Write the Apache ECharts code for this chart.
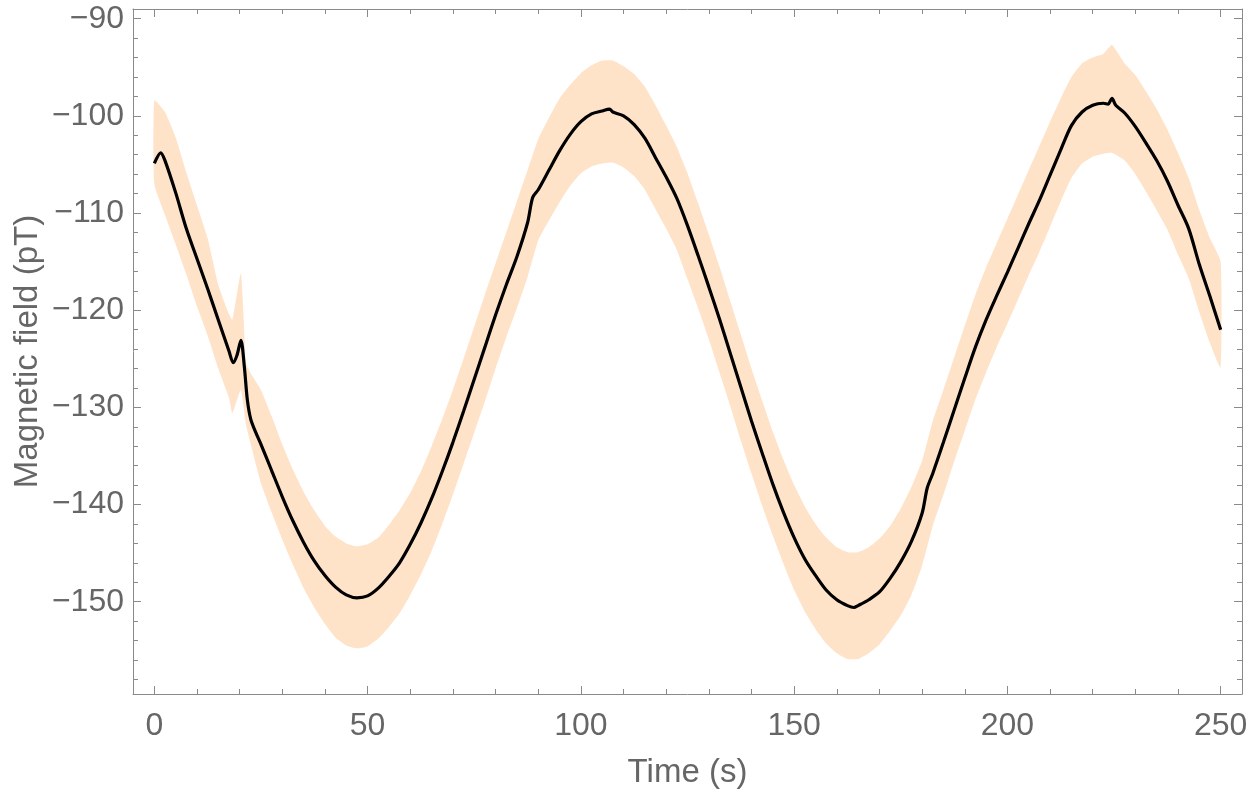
<!DOCTYPE html>
<html>
<head>
<meta charset="utf-8">
<title>Magnetic field</title>
<script src="https://cdn.jsdelivr.net/npm/echarts@6/dist/echarts.min.js"></script>
<style>
  html, body { margin: 0; padding: 0; background: #fff; }
  #chart { width: 1250px; height: 790px; }
</style>
</head>
<body>
<div id="chart"></div>
<script>
// smoothed field (black curve)
var lineTime = [0, 1.5, 2.5, 5, 7.5, 10, 12.5, 15, 17.5, 18.5, 19.4, 20.3, 21.1, 21.8, 22.6, 23.8,
  25, 27.5, 30, 32.5, 35, 37.5, 40, 42.5, 45, 47.5, 50, 52.5, 55, 57.5, 60, 62.5, 65, 67.5, 70,
  72.5, 75, 77.5, 80, 82.5, 85, 87.5, 88.7, 90, 92.5, 95, 97.5, 100, 102.5, 105, 106.7, 107.5,
  110, 112.5, 115, 117.5, 120, 122.5, 125, 127.5, 130, 132.5, 135, 137.5, 140, 142.5, 145, 147.5,
  150, 152.5, 155, 157.5, 160, 162.5, 164, 165, 167.5, 170, 172.5, 175, 177.5, 180, 181.2, 182.5,
  185, 187.5, 190, 192.5, 195, 197.5, 200, 202.5, 205, 207.5, 210, 212.5, 215, 217.5, 220, 222.5,
  223.6, 224.5, 225.4, 227.5, 230, 232.5, 235, 237.5, 240, 242.5, 245, 247.5, 250];
var lineField = [-104.9, -103.8, -104.6, -107.9, -111.6, -114.7, -117.8, -121.0, -124.2, -125.4, -124.6, -123.1, -125.8, -129.2, -131.2, -132.6,
  -133.8, -136.5, -139.2, -141.7, -143.9, -145.8, -147.3, -148.5, -149.3, -149.6, -149.4, -148.6, -147.4, -146.0, -144.1, -141.9, -139.4, -136.6, -133.6,
  -130.4, -127.1, -123.8, -120.5, -117.4, -114.5, -111.0, -108.4, -107.6, -105.6, -103.6, -101.9, -100.6, -99.8, -99.5, -99.3, -99.6,
  -100.0, -100.9, -102.3, -104.3, -106.3, -108.5, -111.3, -114.4, -117.6, -120.9, -124.4, -127.9, -131.4, -134.7, -137.9, -140.8,
  -143.4, -145.6, -147.3, -148.8, -149.8, -150.4, -150.6, -150.4, -149.8, -149.0, -147.6, -145.9, -143.8, -140.9, -138.3, -136.8,
  -133.6, -130.3, -127.0, -123.8, -121.0, -118.5, -116.1, -113.6, -111.1, -108.7, -106.1, -103.5, -101.0, -99.6, -98.9, -98.7,
  -98.8, -98.2, -98.9, -99.7, -101.1, -102.8, -104.6, -106.7, -109.2, -111.6, -115.3, -118.6, -122.0];

// envelope of the raw signal (peach band)
var bandTime = [0, 2.5, 5, 7.5, 10, 12.5, 15, 17.5, 18.3, 20.3, 21.5, 22.5, 25, 27.5, 30, 32.5, 35, 37.5,
  40, 42.5, 45, 47.5, 50, 52.5, 55, 57.5, 60, 62.5, 65, 67.5, 70, 72.5, 75, 77.5, 80, 82.5, 85, 87.5,
  90, 92.5, 95, 97.5, 100, 102.5, 105, 107.5, 110, 112.5, 115, 117.5, 120, 122.5, 125, 127.5, 130,
  132.5, 135, 137.5, 140, 142.5, 145, 147.5, 150, 152.5, 155, 157.5, 160, 162.5, 165, 167.5, 170,
  172.5, 175, 177.5, 180, 182.5, 185, 187.5, 190, 192.5, 195, 197.5, 200, 202.5, 205, 207.5, 210,
  212.5, 215, 217.5, 220, 222.5, 224.5, 227.5, 230, 232.5, 235, 237.5, 240, 242.5, 245, 247.5, 250];
var bandUpper = [-98.4, -99.6, -102.2, -105.8, -109.2, -112.6, -117.4, -120.4, -121.0, -116.2, -125.4, -126.4, -128.2, -130.9, -133.8, -136.4, -138.7, -140.6,
  -142.2, -143.3, -144.0, -144.3, -144.1, -143.4, -142.1, -140.6, -138.8, -136.6, -134.0, -131.2, -128.2, -125.0, -121.7, -118.4, -115.2, -112.0, -108.8, -105.6,
  -102.4, -100.2, -98.2, -96.8, -95.6, -94.8, -94.3, -94.3, -94.9, -95.7, -97.0, -98.9, -101.0, -103.2, -105.9, -109.0, -112.2,
  -115.5, -119.0, -122.5, -126.0, -129.3, -132.5, -135.4, -138.0, -140.2, -142.0, -143.4, -144.4, -144.9, -144.9, -144.4, -143.5,
  -142.2, -140.4, -138.2, -135.5, -131.4, -128.2, -124.9, -121.6, -118.4, -115.6, -113.1, -110.6, -108.1, -105.6, -103.1, -100.6,
  -98.2, -96.0, -94.6, -94.0, -93.6, -92.7, -94.6, -95.8, -97.5, -99.3, -101.4, -103.8, -106.4, -109.7, -112.6, -115.0];
var bandLower = [-107.0, -110.2, -113.2, -116.3, -119.6, -122.6, -126.0, -129.0, -130.6, -128.2, -131.8, -133.6, -137.8, -140.8, -143.6, -146.2, -148.6, -150.6,
  -152.3, -153.7, -154.5, -154.8, -154.6, -153.8, -152.6, -151.2, -149.3, -147.2, -144.8, -142.0, -139.0, -135.8, -132.6, -129.4, -126.0, -122.8, -119.8, -116.6,
  -112.8, -110.8, -108.9, -107.2, -105.9, -105.2, -104.9, -104.8, -105.3, -106.2, -107.6, -109.6, -111.6, -113.8, -116.8, -119.8, -123.0,
  -126.4, -129.8, -133.4, -136.8, -140.1, -143.2, -146.1, -148.8, -151.0, -152.8, -154.3, -155.3, -155.9, -155.9, -155.3, -154.4,
  -153.0, -151.4, -149.3, -146.3, -142.2, -139.0, -135.6, -132.4, -129.2, -126.4, -123.8, -121.4, -118.9, -116.4, -114.0, -111.4,
  -108.8, -106.4, -104.9, -104.2, -103.9, -103.8, -104.6, -106.0, -107.8, -109.7, -111.7, -114.3, -116.7, -120.2, -123.4, -125.9];

// tick positions
var xTicks = [0, 50, 100, 150, 200, 250];
var xMinorTicks = [10, 20, 30, 40, 60, 70, 80, 90, 110, 120, 130, 140, 160, 170, 180, 190, 210, 220, 230, 240];
var yTicks = [-150, -140, -130, -120, -110, -100, -90];
var yMinorTicks = [-158, -156, -154, -152, -148, -146, -144, -142, -138, -136, -134, -132, -128, -126, -124, -122,
  -118, -116, -114, -112, -108, -106, -104, -102, -98, -96, -94, -92];

var font = '"Liberation Sans", Arial, sans-serif';
var frame = '#8a8a8a';
var textColor = '#666666';

function minus(v) {
  return v < 0 ? '\u2212' + Math.abs(v) : String(v);
}

function xAxisDef(pos, ticks, len, main) {
  return {
    type: 'value', position: pos, min: -5, max: 255, z: 10,
    name: main ? 'Time (s)' : '', nameLocation: 'middle', nameGap: 62, nameMoveOverlap: false,
    nameTextStyle: { fontFamily: font, fontSize: 33, color: textColor },
    axisLine: { show: main !== null, onZero: false, lineStyle: { color: frame, width: 1 } },
    axisTick: { show: true, inside: true, length: len, customValues: ticks, lineStyle: { color: frame } },
    axisLabel: { show: !!main, customValues: ticks, margin: 16, fontFamily: font, fontSize: 32, color: textColor, formatter: minus },
    splitLine: { show: false }
  };
}
function yAxisDef(pos, ticks, len, main) {
  return {
    type: 'value', position: pos, min: -159.5, max: -89, z: 10,
    name: main ? 'Magnetic field (pT)' : '', nameLocation: 'middle', nameGap: 89, nameMoveOverlap: false,
    nameTextStyle: { fontFamily: font, fontSize: 33, color: textColor },
    axisLine: { show: main !== null, onZero: false, lineStyle: { color: frame, width: 1 } },
    axisTick: { show: true, inside: true, length: len, customValues: ticks, lineStyle: { color: frame } },
    axisLabel: { show: !!main, customValues: ticks, margin: 9, fontFamily: font, fontSize: 32, color: textColor, formatter: minus },
    splitLine: { show: false }
  };
}

// band drawn as one polygon: upper edge forward, lower edge back
function renderBand(params, api) {
  var pts = [];
  for (var i = 0; i < bandTime.length; i++) {
    pts.push(api.coord([bandTime[i], bandUpper[i]]));
  }
  for (var j = bandTime.length - 1; j >= 0; j--) {
    pts.push(api.coord([bandTime[j], bandLower[j]]));
  }
  return {
    type: 'polygon',
    shape: { points: pts, smooth: 0.15 },
    style: { fill: '#fee3c9', stroke: null }
  };
}

var chart = echarts.init(document.getElementById('chart'));
chart.setOption({
  animation: false,
  backgroundColor: '#ffffff',
  grid: { left: 133, right: 8, top: 9, bottom: 96, outerBoundsMode: 'none', containLabel: false },
  xAxis: [
    xAxisDef('bottom', xTicks, 8, true),
    xAxisDef('bottom', xMinorTicks, 5, null),
    xAxisDef('top', xTicks, 8, false),
    xAxisDef('top', xMinorTicks, 5, null)
  ],
  yAxis: [
    yAxisDef('left', yTicks, 8, true),
    yAxisDef('left', yMinorTicks, 5, null),
    yAxisDef('right', yTicks, 8, false),
    yAxisDef('right', yMinorTicks, 5, null)
  ],
  series: [
    {
      type: 'custom', silent: true, z: 1,
      renderItem: renderBand,
      data: [[bandTime[0], bandUpper[0]]]
    },
    {
      type: 'line', symbol: 'none', smooth: 0.3, z: 5,
      lineStyle: { color: '#000000', width: 3.2 },
      data: lineTime.map(function (t, i) { return [t, lineField[i]]; })
    }
  ]
});
</script>
</body>
</html>
